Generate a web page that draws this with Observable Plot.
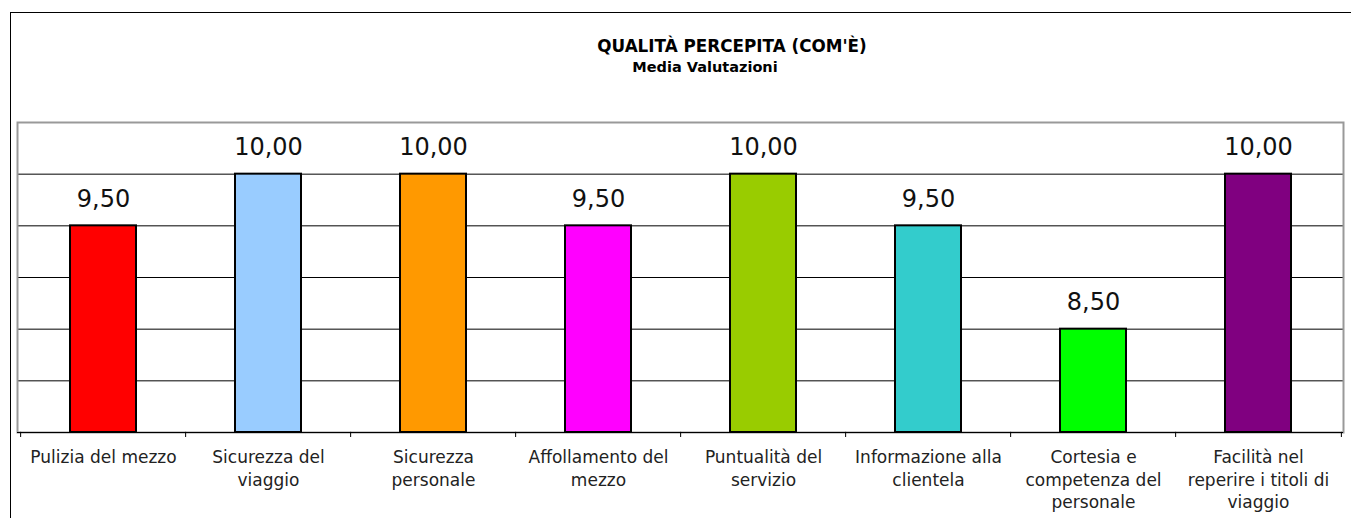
<!DOCTYPE html>
<html>
<head>
<meta charset="utf-8">
<script src="https://cdn.jsdelivr.net/npm/d3@7"></script>
<script src="https://cdn.jsdelivr.net/npm/@observablehq/plot@0.6"></script>
<style>
  html, body { margin: 0; padding: 0; background: #fff; overflow: hidden; }
  #wrap { position: relative; width: 1351px; height: 518px; overflow: hidden; }
  #outer { position: absolute; left: 10px; top: 12px; width: 1400px; height: 600px; border: 1.5px solid #000; box-sizing: border-box; }
  .ttl { position: absolute; width: 600px; text-align: center; font-family: "DejaVu Sans", sans-serif; font-weight: bold; color: #000; white-space: nowrap; }
  #t1 { left: 432px; top: 35px; font-size: 16.8px; line-height: 22px; }
  #t2 { left: 405px; top: 57px; font-size: 14.5px; line-height: 20px; }
  #chart { position: absolute; left: 0; top: 0; }
</style>
</head>
<body>
<div id="wrap">
  <div id="outer"></div>
  <div class="ttl" id="t1">QUALITÀ PERCEPITA (COM'È)</div>
  <div class="ttl" id="t2">Media Valutazioni</div>
  <div id="chart"></div>
</div>
<script>
const categories = [
  "Pulizia del mezzo",
  "Sicurezza del\nviaggio",
  "Sicurezza\npersonale",
  "Affollamento del\nmezzo",
  "Puntualità del\nservizio",
  "Informazione alla\nclientela",
  "Cortesia e\ncompetenza del\npersonale",
  "Facilità nel\nreperire i titoli di\nviaggio"
];
const values = [9.5, 10, 10, 9.5, 10, 9.5, 8.5, 10];
const colors = ["#FF0000", "#99CCFF", "#FF9900", "#FF00FF", "#99CC00", "#33CCCC", "#00FF00", "#800080"];
const yTicks = [8, 8.5, 9, 9.5, 10];
const yMin = 7.5, yMax = 10.5;

const data = categories.map((c, i) => ({cat: c, value: values[i], color: colors[i]}));
const fmt = v => v.toFixed(2).replace(".", ",");

const W = 1351, H = 518;
const mL = 17, mR = 8, mT = 122, mB = 86;
const step = (W - mL - mR) / categories.length;

const chart = Plot.plot({
  width: W,
  height: H,
  marginLeft: mL,
  marginRight: mR,
  marginTop: mT,
  marginBottom: mB,
  style: {fontFamily: "DejaVu Sans, sans-serif", background: "transparent", color: "#000"},
  x: {domain: categories, paddingInner: 0.6, paddingOuter: 0.3, label: null},
  y: {domain: [yMin, yMax], axis: null},
  marks: [
    Plot.ruleY(yTicks, {stroke: "#000", strokeWidth: 1}),
    Plot.frame({stroke: "#999", strokeWidth: 2}),
    Plot.barY(data, {x: "cat", y1: () => yMin, y2: "value", fill: "color", stroke: "#000", strokeWidth: 2}),
    Plot.text(data, {x: "cat", y: "value", text: d => fmt(d.value), dy: -27, fontSize: 24, fill: "#111", lineAnchor: "middle"}),
    Plot.ruleY([yMin], {stroke: "#000", strokeWidth: 1}),
    Plot.ruleX(categories, {x: d => d, y1: yMin, y2: yMin + 0.05, dy: 5, dx: -step / 2, stroke: "#000", strokeWidth: 1}),
    Plot.ruleX([categories[categories.length - 1]], {x: d => d, y1: yMin, y2: yMin + 0.05, dy: 5, dx: step / 2, stroke: "#000", strokeWidth: 1}),
    Plot.axisX({tickSize: 0, tickPadding: 15, fontSize: 17, lineHeight: 1.32, fill: "#222", label: null})
  ]
});
document.getElementById("chart").appendChild(chart);
</script>
</body>
</html>
